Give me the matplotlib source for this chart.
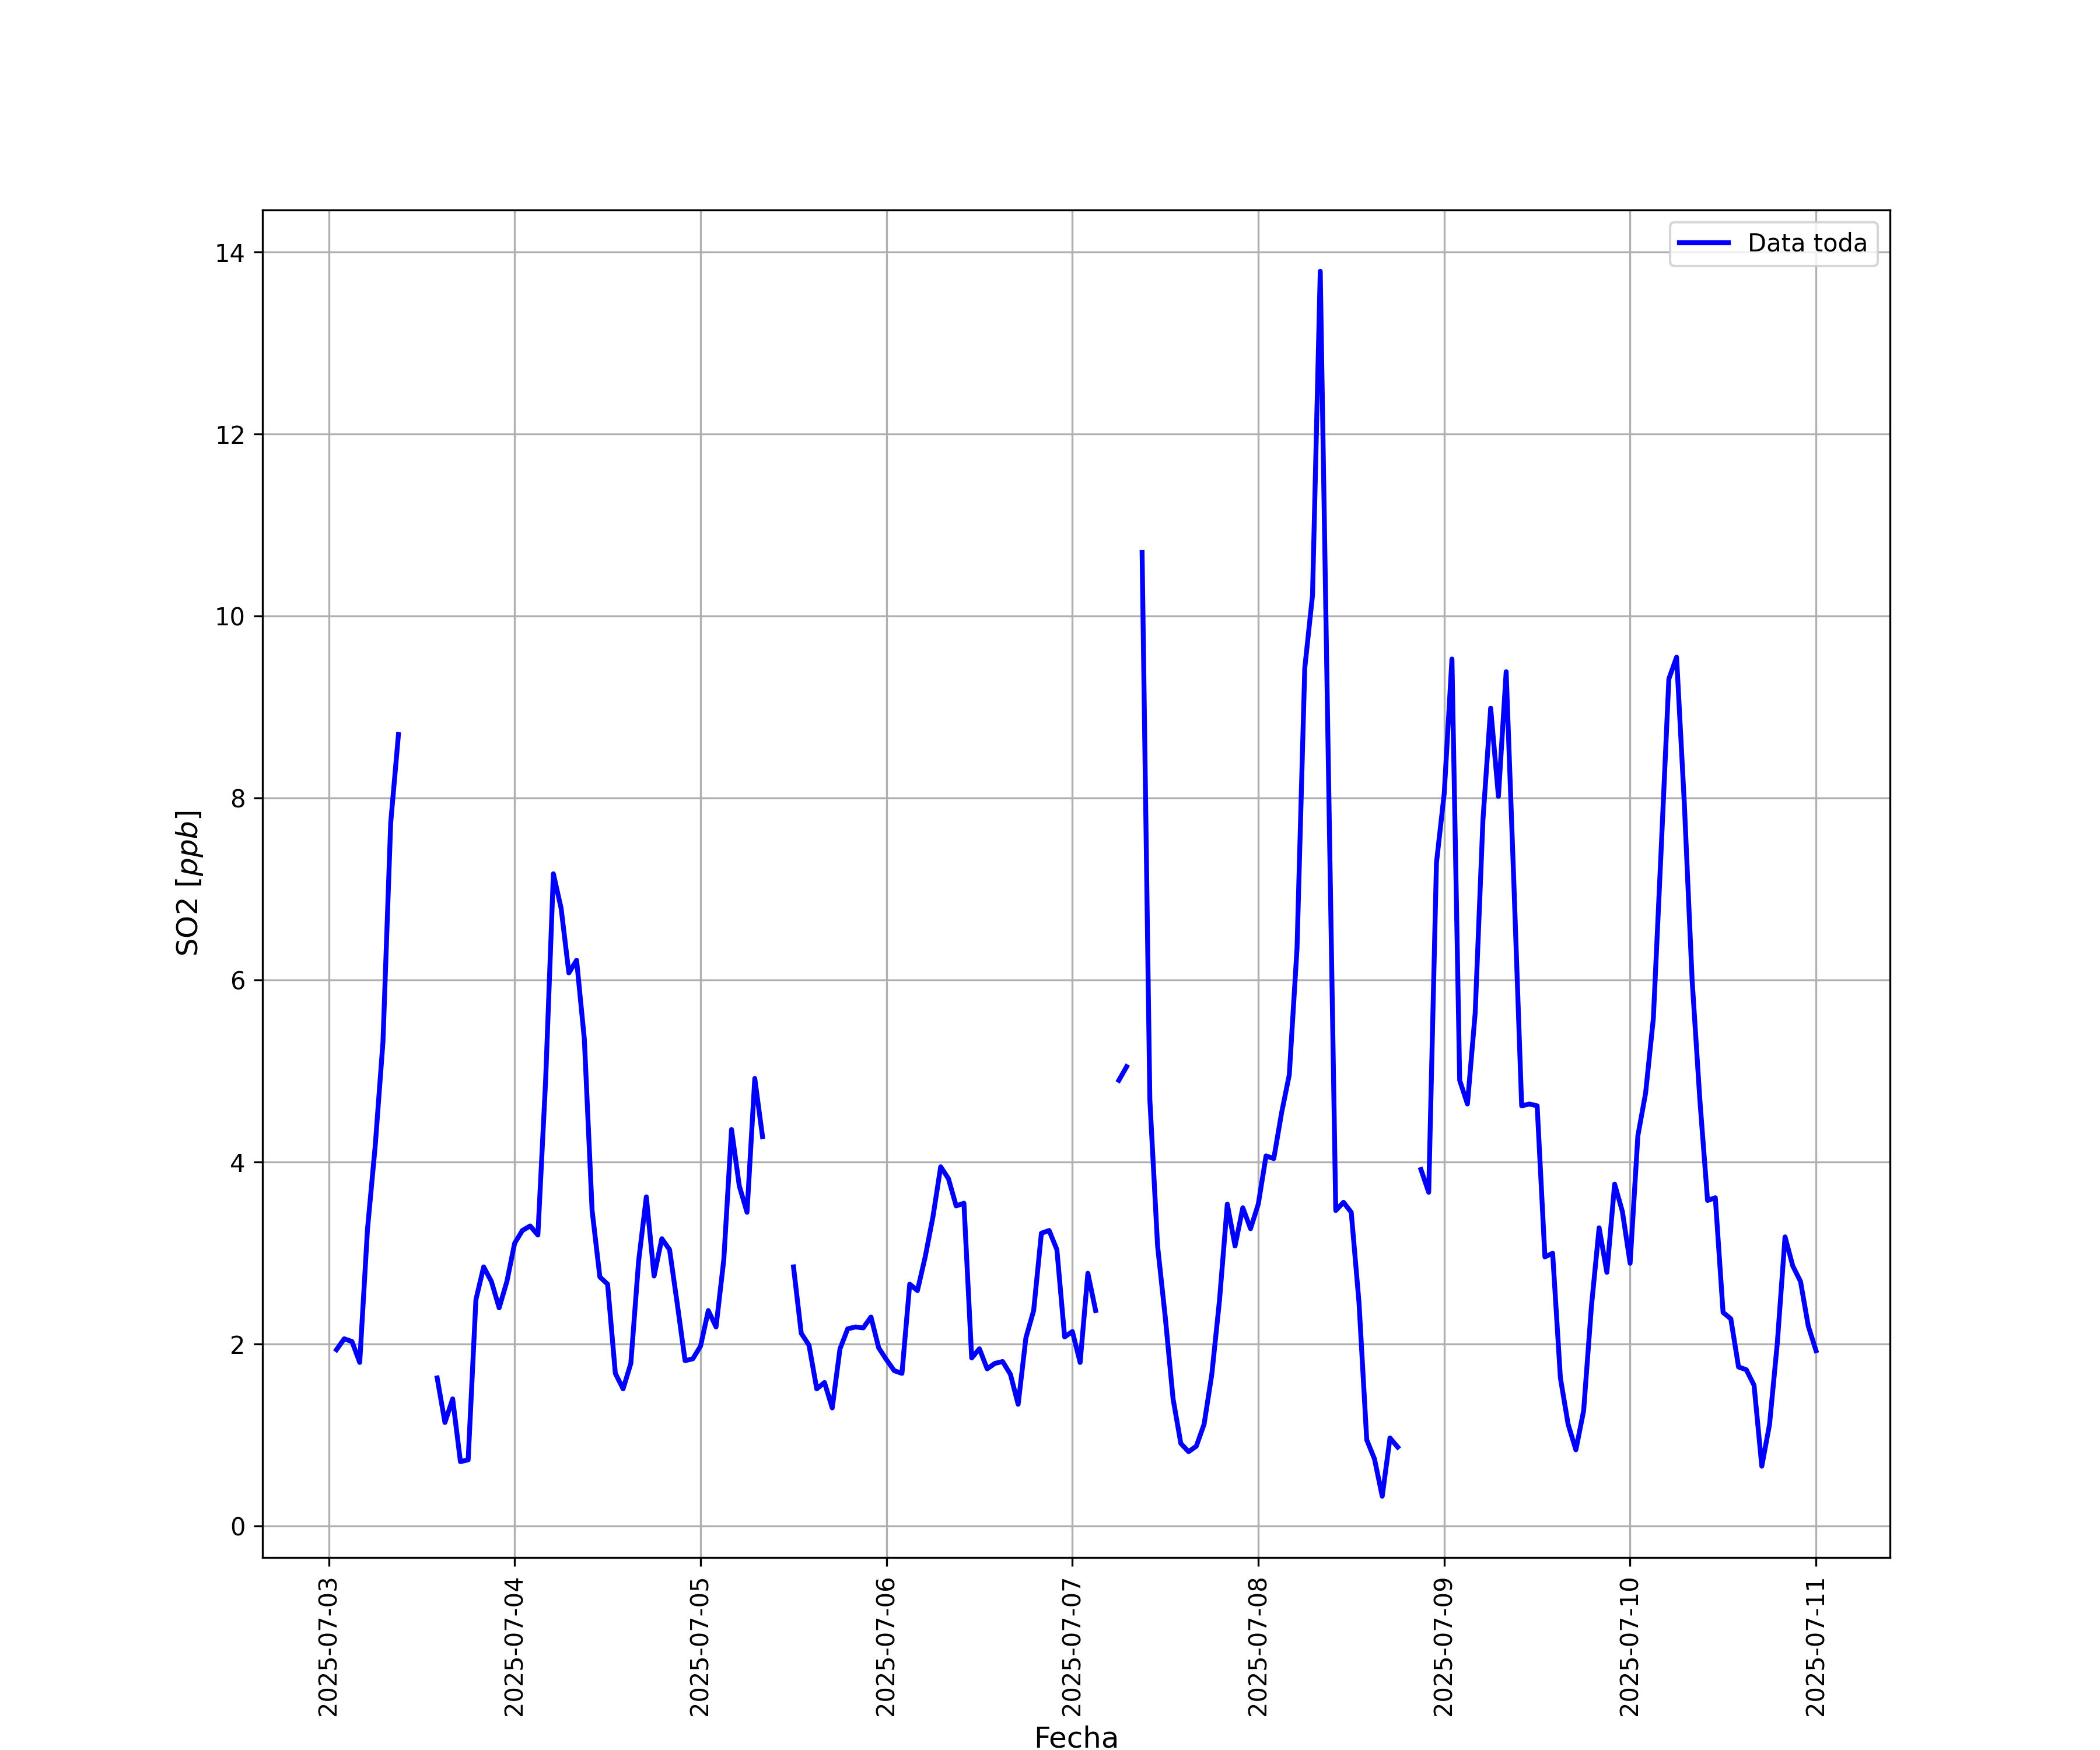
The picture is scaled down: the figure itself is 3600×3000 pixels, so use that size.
import numpy as np
import pandas as pd
from matplotlib import pyplot as plt, dates as mdates

nan = np.nan

# Hourly SO2 readings (ppb), series starts 2025-07-03 01:00
so2_0703 = [1.94, 2.06, 2.03, 1.80, 3.26, 4.18, 5.32, 7.73, 8.70,
            nan, nan, nan, nan,
            1.63, 1.14, 1.40, 0.71, 0.73, 2.49, 2.85, 2.69, 2.40, 2.69]
so2_0704 = [3.11, 3.25, 3.30, 3.20, 4.90, 7.17, 6.79, 6.08, 6.22, 5.35, 3.47, 2.74,
            2.66, 1.68, 1.51, 1.79, 2.91, 3.62, 2.75, 3.16, 3.04, 2.44, 1.82, 1.84]
so2_0705 = [1.98, 2.37, 2.19, 2.93, 4.36, 3.74, 3.45, 4.92, 4.28, nan, nan, nan,
            2.85, 2.12, 1.99, 1.51, 1.58, 1.30, 1.95, 2.17, 2.19, 2.18, 2.30, 1.96]
so2_0706 = [1.83, 1.71, 1.68, 2.66, 2.59, 2.96, 3.40, 3.95, 3.82, 3.52, 3.55, 1.85,
            1.95, 1.73, 1.79, 1.81, 1.67, 1.34, 2.07, 2.37, 3.22, 3.25, 3.04, 2.08]
so2_0707 = [2.14, 1.80, 2.78, 2.37, nan, nan, 4.90, 5.05, nan, 10.70, 4.69, 3.08,
            2.29, 1.40, 0.91, 0.82, 0.88, 1.12, 1.67, 2.49, 3.54, 3.08, 3.50, 3.27]
so2_0708 = [3.54, 4.07, 4.04, 4.54, 4.96, 6.35, 9.43, 10.23, 13.79, 8.60, 3.47, 3.56,
            3.45, 2.46, 0.95, 0.74, 0.33, 0.97, 0.87, nan, nan, 3.92, 3.67, 7.29]
so2_0709 = [8.05, 9.53, 4.90, 4.64, 5.64, 7.76, 8.99, 8.02, 9.39, 7.05, 4.62, 4.64,
            4.62, 2.96, 3.00, 1.63, 1.12, 0.84, 1.27, 2.41, 3.28, 2.79, 3.76, 3.46]
so2_0710 = [2.89, 4.29, 4.76, 5.58, 7.42, 9.31, 9.55, 7.94, 6.01, 4.69, 3.58, 3.61,
            2.35, 2.28, 1.75, 1.72, 1.55, 0.66, 1.12, 2.01, 3.18, 2.86, 2.69, 2.20]
so2_0711 = [1.93]

so2 = (so2_0703 + so2_0704 + so2_0705 + so2_0706 + so2_0707
       + so2_0708 + so2_0709 + so2_0710 + so2_0711)
times = pd.date_range('2025-07-03 01:00', periods=len(so2), freq='h')

fig, ax = plt.subplots(figsize=(12, 10))
ax.plot(times, np.array(so2), color='blue', linewidth=2, label='Data toda')

ax.xaxis.set_major_locator(mdates.DayLocator())
ax.xaxis.set_major_formatter(mdates.DateFormatter('%Y-%m-%d'))
plt.xticks(rotation=90)
ax.set_xlabel('Fecha', fontsize=12)
ax.set_ylabel('SO2 [$ppb$]', fontsize=12)
ax.grid(True)
ax.legend(loc='upper right')

plt.savefig('out.png', dpi=300)
